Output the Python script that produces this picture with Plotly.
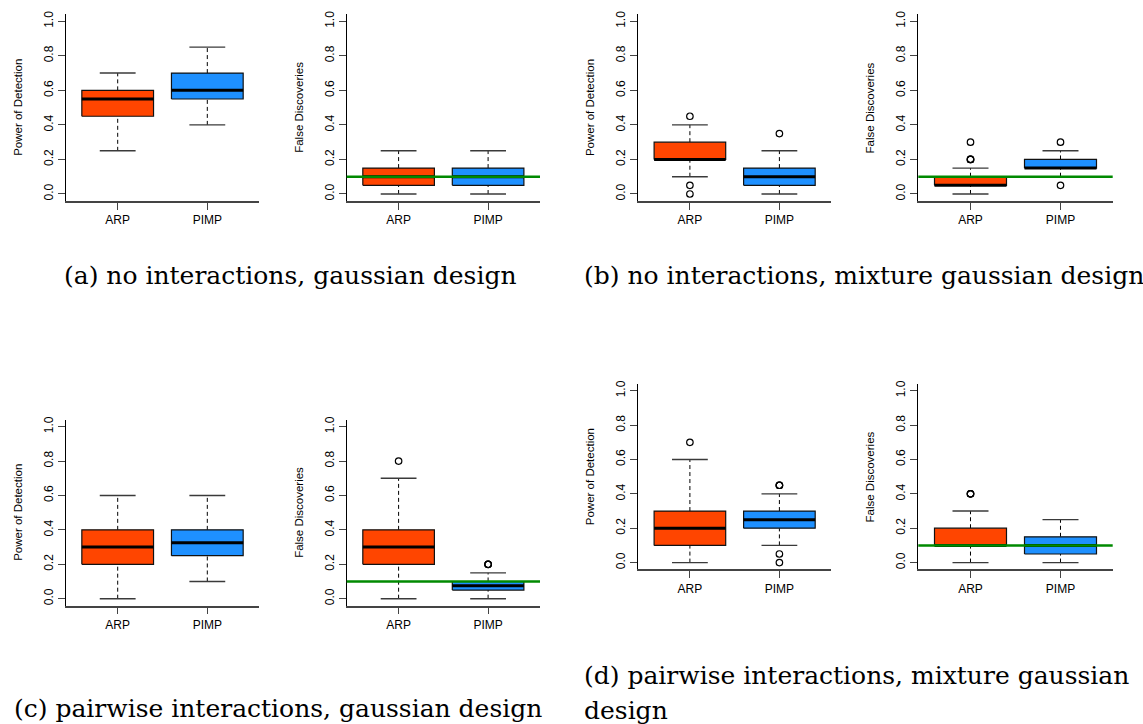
import plotly.graph_objects as go

W, H = 1143, 724

methods = ["ARP", "PIMP"]
colors = ["#FF4500", "#1E90FF"]

# five-number summaries: [lower whisker, Q1, median, Q3, upper whisker]
a_power_ARP = [0.25, 0.45, 0.55, 0.60, 0.70]
a_power_PIMP = [0.40, 0.55, 0.60, 0.70, 0.85]
a_fdr_ARP = [0.00, 0.05, 0.10, 0.15, 0.25]
a_fdr_PIMP = [0.00, 0.05, 0.10, 0.15, 0.25]

b_power_ARP = [0.10, 0.20, 0.20, 0.30, 0.40]
b_power_PIMP = [0.00, 0.05, 0.10, 0.15, 0.25]
b_fdr_ARP = [0.00, 0.05, 0.05, 0.10, 0.15]
b_fdr_PIMP = [0.10, 0.15, 0.15, 0.20, 0.25]

c_power_ARP = [0.00, 0.20, 0.30, 0.40, 0.60]
c_power_PIMP = [0.10, 0.25, 0.325, 0.40, 0.60]
c_fdr_ARP = [0.00, 0.20, 0.30, 0.40, 0.70]
c_fdr_PIMP = [0.00, 0.05, 0.075, 0.10, 0.15]

d_power_ARP = [0.00, 0.10, 0.20, 0.30, 0.60]
d_power_PIMP = [0.10, 0.20, 0.25, 0.30, 0.40]
d_fdr_ARP = [0.00, 0.10, 0.10, 0.20, 0.30]
d_fdr_PIMP = [0.00, 0.05, 0.10, 0.15, 0.25]

# outliers
a_power_ARP_out, a_power_PIMP_out = [], []
a_fdr_ARP_out, a_fdr_PIMP_out = [], []
b_power_ARP_out = [0.45, 0.05, 0.00]
b_power_PIMP_out = [0.35]
b_fdr_ARP_out = [0.20, 0.20, 0.20, 0.30]
b_fdr_PIMP_out = [0.30, 0.05]
c_power_ARP_out, c_power_PIMP_out = [], []
c_fdr_ARP_out = [0.80]
c_fdr_PIMP_out = [0.20, 0.20, 0.20]
d_power_ARP_out = [0.70]
d_power_PIMP_out = [0.45, 0.45, 0.45, 0.05, 0.00]
d_fdr_ARP_out = [0.40, 0.40, 0.40]
d_fdr_PIMP_out = []

fdr_target = 0.1
y_ticks = [0.0, 0.2, 0.4, 0.6, 0.8, 1.0]
y_ticktext = ["0.0", "0.2", "0.4", "0.6", "0.8", "1.0"]

captions = [
    "(a) no interactions, gaussian design",
    "(b) no interactions, mixture gaussian design",
    "(c) pairwise interactions, gaussian design",
    "(d) pairwise interactions, mixture gaussian",
    "design",
]

# panels: (stats per method, outliers per method, y-title, is_fdr, pixel box x0,x1,ytop,ybottom)
panels = [
    ([a_power_ARP, a_power_PIMP], [a_power_ARP_out, a_power_PIMP_out], "Power of Detection", False, (65.7, 259.3, 10.4, 198.0)),
    ([a_fdr_ARP, a_fdr_PIMP], [a_fdr_ARP_out, a_fdr_PIMP_out], "False Discoveries", True, (346.7, 540.0, 10.4, 198.0)),
    ([b_power_ARP, b_power_PIMP], [b_power_ARP_out, b_power_PIMP_out], "Power of Detection", False, (638.0, 831.3, 10.4, 198.0)),
    ([b_fdr_ARP, b_fdr_PIMP], [b_fdr_ARP_out, b_fdr_PIMP_out], "False Discoveries", True, (918.3, 1112.7, 10.4, 198.0)),
    ([c_power_ARP, c_power_PIMP], [c_power_ARP_out, c_power_PIMP_out], "Power of Detection", False, (65.7, 259.3, 418.1, 604.9)),
    ([c_fdr_ARP, c_fdr_PIMP], [c_fdr_ARP_out, c_fdr_PIMP_out], "False Discoveries", True, (346.7, 540.0, 418.1, 604.9)),
    ([d_power_ARP, d_power_PIMP], [d_power_ARP_out, d_power_PIMP_out], "Power of Detection", False, (638.0, 831.3, 382.0, 568.6)),
    ([d_fdr_ARP, d_fdr_PIMP], [d_fdr_ARP_out, d_fdr_PIMP_out], "False Discoveries", True, (918.3, 1112.7, 382.0, 568.6)),
]

BOXW = 0.8
CAPW = 0.4
SANS = "Liberation Sans, Arial, sans-serif"

fig = go.Figure()
shapes = []
annotations = []
layout_axes = {}

for k, (stats, outs, ytitle, is_fdr, (px0, px1, pyt, pyb)) in enumerate(panels):
    n = k + 1
    xa = "x" if n == 1 else f"x{n}"
    ya = "y" if n == 1 else f"y{n}"
    xkey = "xaxis" if n == 1 else f"xaxis{n}"
    ykey = "yaxis" if n == 1 else f"yaxis{n}"
    for i, (s, o) in enumerate(zip(stats, outs)):
        pos = i + 1
        lo, q1, med, q3, hi = s
        # whiskers (dashed)
        fig.add_trace(go.Scatter(
            x=[pos, pos, None, pos, pos], y=[q3, hi, None, lo, q1],
            mode="lines", line=dict(color="black", width=1, dash="4px,3px"),
            xaxis=xa, yaxis=ya, showlegend=False, hoverinfo="skip"))
        # caps
        fig.add_trace(go.Scatter(
            x=[pos - CAPW / 2, pos + CAPW / 2, None, pos - CAPW / 2, pos + CAPW / 2],
            y=[hi, hi, None, lo, lo],
            mode="lines", line=dict(color="#3a3a3a", width=1.4),
            xaxis=xa, yaxis=ya, showlegend=False, hoverinfo="skip"))
        # box
        fig.add_trace(go.Scatter(
            x=[pos - BOXW / 2, pos + BOXW / 2, pos + BOXW / 2, pos - BOXW / 2, pos - BOXW / 2],
            y=[q1, q1, q3, q3, q1], mode="lines", fill="toself",
            fillcolor=colors[i], line=dict(color="#111111", width=1.2),
            xaxis=xa, yaxis=ya, showlegend=False, hoverinfo="skip"))
        # median
        fig.add_trace(go.Scatter(
            x=[pos - BOXW / 2, pos + BOXW / 2], y=[med, med], mode="lines",
            line=dict(color="black", width=3),
            xaxis=xa, yaxis=ya, showlegend=False, hoverinfo="skip"))
        # outliers
        if o:
            fig.add_trace(go.Scatter(
                x=[pos] * len(o), y=o, mode="markers",
                marker=dict(symbol="circle-open", size=6.5, color="black", line=dict(width=1.2)),
                xaxis=xa, yaxis=ya, showlegend=False, hoverinfo="skip"))
    if is_fdr:
        shapes.append(dict(type="line", xref=f"{xa} domain", yref=ya, x0=0, x1=1,
                           y0=fdr_target, y1=fdr_target, line=dict(color="#008A00", width=2.5)))
    layout_axes[xkey] = dict(
        domain=[px0 / W, px1 / W], anchor=ya, range=[0.42, 2.58],
        tickmode="array", tickvals=[1, 2], ticktext=methods,
        showline=True, linecolor="#444444", linewidth=1.5,
        ticks="outside", ticklen=7, tickcolor="#444444", tickwidth=1.2,
        showgrid=False, zeroline=False,
        tickfont=dict(family=SANS, size=12, color="black"), fixedrange=True)
    layout_axes[ykey] = dict(
        domain=[1 - pyb / H, 1 - pyt / H], anchor=xa, range=[-0.04, 1.04],
        tickmode="array", tickvals=y_ticks, ticktext=y_ticktext, tickangle=-90,
        showline=True, linecolor="black", linewidth=1.2,
        ticks="outside", ticklen=7, tickcolor="#444444", tickwidth=1.2,
        showgrid=False, zeroline=False,
        tickfont=dict(family=SANS, size=12, color="black"), fixedrange=True)
    # y title
    annotations.append(dict(
        text=ytitle, xref="paper", yref="paper",
        x=(px0 - 48.5) / W, y=1 - (pyt + pyb) / 2 / H,
        xanchor="center", yanchor="middle", textangle=-90, showarrow=False,
        font=dict(family=SANS, size=11.5, color="black")))

SERIF = "DejaVu Serif, serif"
cap_pos = [
    (290, 273, "center"),
    (582, 273, "left"),
    (278, 708, "center"),
    (582, 675, "left"),
    (582, 710, "left"),
]
for txt, (cx, cy, anc) in zip(captions, cap_pos):
    annotations.append(dict(
        text=txt, xref="paper", yref="paper", x=cx / W, y=1 - cy / H,
        xanchor=anc, yanchor="middle", showarrow=False,
        font=dict(family=SERIF, size=25, color="black")))

fig.update_layout(
    width=W, height=H, margin=dict(l=0, r=0, t=0, b=0),
    paper_bgcolor="white", plot_bgcolor="white",
    shapes=shapes, annotations=annotations, showlegend=False,
    **layout_axes)

fig.write_html("out.html", config={"displayModeBar": False})
